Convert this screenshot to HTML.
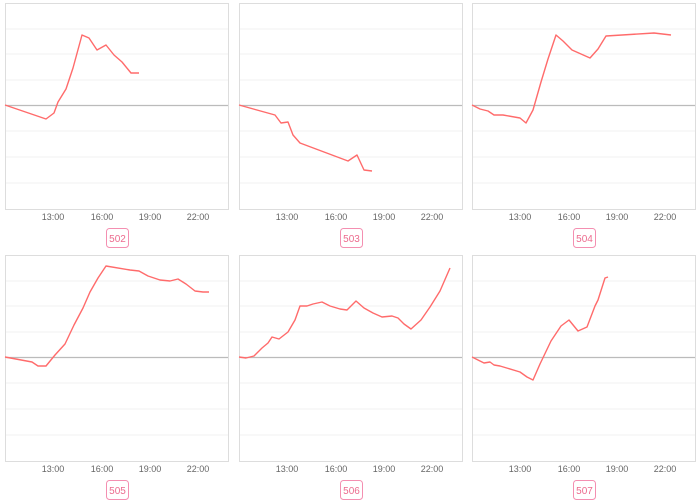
<!DOCTYPE html><html><head><style>body{margin:0;background:#fff}svg{display:block}text{font-family:"Liberation Sans",sans-serif}</style></head><body>
<svg width="700" height="503" viewBox="0 0 700 503" xmlns="http://www.w3.org/2000/svg">
<defs>
<g id="grid">
<rect x="0.5" y="0.5" width="223" height="206" fill="#fff" stroke="#ddd"/>
<g stroke="#f2f2f2"><line x1="1" x2="223" y1="26" y2="26"/><line x1="1" x2="223" y1="51" y2="51"/><line x1="1" x2="223" y1="77" y2="77"/><line x1="1" x2="223" y1="128" y2="128"/><line x1="1" x2="223" y1="154" y2="154"/><line x1="1" x2="223" y1="180" y2="180"/></g>
<line x1="1" x2="223" y1="102.5" y2="102.5" stroke="#bbb" stroke-width="1.2"/>
<g font-size="9" fill="#666" text-anchor="middle"><text x="48" y="217">13:00</text><text x="97" y="217">16:00</text><text x="145" y="217">19:00</text><text x="193" y="217">22:00</text></g>
</g>
</defs>
<use href="#grid" x="5" y="3"/><use href="#grid" x="239" y="3"/><use href="#grid" x="472" y="3"/>
<use href="#grid" x="5" y="255"/><use href="#grid" x="239" y="255"/><use href="#grid" x="472" y="255"/>
<g fill="#fff" stroke="#f48fb1" stroke-width="1"><rect x="106.5" y="228.5" width="22" height="19" rx="3"/><rect x="340.5" y="228.5" width="22" height="19" rx="3"/><rect x="573.5" y="228.5" width="22" height="19" rx="3"/><rect x="106.5" y="480.5" width="22" height="19" rx="3"/><rect x="340.5" y="480.5" width="22" height="19" rx="3"/><rect x="573.5" y="480.5" width="22" height="19" rx="3"/></g>
<g font-size="10" fill="#ec6b8e" text-anchor="middle"><text x="117.5" y="242">502</text><text x="351.5" y="242">503</text><text x="584.5" y="242">504</text><text x="117.5" y="494">505</text><text x="351.5" y="494">506</text><text x="584.5" y="494">507</text></g>
<g fill="none" stroke="#ff6b6b" stroke-width="1.4" stroke-linejoin="round">
<polyline points="5,105 46,119 54,113 58,102 66,89 73,68 82,35 89,38 97,50 106,45 114,55 122,62 131,73 139,73"/>
<polyline points="239,105 275,115 281,123 288,122 293,135 300,143 348,161 357,155 364,170 372,171"/>
<polyline points="472,105 480,109 488,111 494,115 503,115 520,118 526,123 533,110 541,82 548,59 556,35 563,41 572,50 581,54 590,58 598,49 606,36 654,33 671,35"/>
<polyline points="5,357 32,362 38,366 46,366 55,355 65,344 74,325 83,308 90,292 98,278 106,266 130,270 139,271 148,276 160,280 170,281 178,279 186,284 195,291 203,292 209,292"/>
<polyline points="239,357 246,358 254,356 262,348 268,343 272,337 279,339 288,332 295,320 300,306 307,306 313,304 322,302 330,306 340,309 347,310 356,301 364,308 373,313 382,317 392,316 398,318 404,324 411,329 421,320 430,307 440,291 450,268"/>
<polyline points="472,357 478,360 484,363 490,362 494,365 500,366 520,372 527,377 533,380 540,364 551,341 561,326 569,320 578,331 587,327 595,306 598,300 605,278 608,277"/>
</g>
</svg>
</body></html>
